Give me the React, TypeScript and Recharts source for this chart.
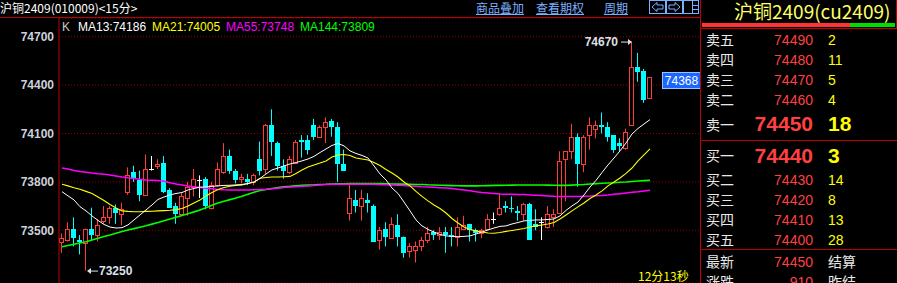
import React from 'react';
import { ComposedChart, Bar, Line, XAxis, YAxis, CartesianGrid, ReferenceDot } from 'recharts';

// ---------- data ----------
const opens = [
  73430,73440,73510,73440,73420,73510,73470,73560,73580,73640,
  73600,73740,73860,73810,73720,73880,73900,73920,73750,73650,
  73600,73700,73770,73810,73820,73640,73780,73860,73960,73870,
  73820,73820,73800,73940,73880,74150,74040,73900,73860,73920,
  74060,74060,74150,74080,74140,74180,74140,73910,73610,73690,
  73650,73690,73650,73440,73510,73450,73530,73460,73370,73380,
  73400,73440,73490,73470,73490,73470,73460,73510,73540,73500,
  73480,73510,73570,73600,73650,73640,73620,73600,73660,73540,
  73550,73520,73580,73610,73940,73990,74080,73910,74090,74130,
  74150,74140,74090,74040,74010,74150,74510,74490,74320,
];
const highs = [
  73480,73550,73580,73470,73510,73640,73570,73650,73650,73660,
  73670,73890,73900,73870,73970,73960,73940,73960,73760,73670,
  73730,73800,73880,73840,73830,73800,73920,74040,74000,73880,
  73850,73850,73850,74050,74160,74250,74050,73940,73960,74060,
  74090,74090,74190,74150,74200,74190,74170,74000,73780,73750,
  73750,73730,73660,73520,73550,73580,73600,73460,73420,73430,
  73460,73520,73500,73520,73520,73520,73580,73590,73540,73510,
  73510,73600,73610,73730,73680,73710,73650,73670,73670,73630,
  73580,73650,73630,73990,73990,74160,74100,74090,74200,74180,
  74230,74170,74090,74070,74130,74670,74600,74500,74450,
];
const lows = [
  73360,73430,73400,73350,73250,73440,73430,73540,73540,73540,
  73530,73720,73800,73680,73720,73870,73880,73730,73640,73540,
  73590,73590,73710,73700,73630,73630,73770,73850,73850,73790,
  73790,73780,73780,73840,73850,73960,73870,73820,73850,73910,
  73950,73970,74060,74080,74040,74080,73800,73870,73560,73610,
  73560,73610,73430,73380,73400,73450,73400,73330,73330,73300,
  73370,73420,73440,73440,73360,73400,73400,73500,73430,73430,
  73450,73500,73540,73590,73610,73610,73560,73560,73440,73500,
  73440,73510,73520,73610,73680,73940,73770,73860,74000,74070,
  74100,74050,73980,73990,74000,74150,74420,74290,74320,
];
const closes = [
  73450,73510,73450,73430,73510,73470,73530,73580,73640,73610,
  73630,73840,73820,73720,73880,73880,73910,73740,73640,73600,
  73710,73770,73820,73810,73650,73780,73880,73960,73870,73810,
  73830,73800,73840,73870,74150,74050,73900,73870,73940,74050,
  74050,74000,74080,74140,74170,74140,73910,73870,73700,73650,
  73700,73670,73430,73500,73460,73540,73460,73360,73400,73400,
  73440,73480,73470,73490,73470,73460,73520,73530,73500,73480,
  73500,73570,73570,73640,73640,73630,73610,73660,73440,73520,
  73550,73600,73600,73930,73990,74080,73910,74080,74150,74150,
  74140,74080,74000,74020,74110,74510,74480,74310,74450,
];
const ma13 = [
  73739,73713,73688,73646,73620,73589,73561,73536,73520,73514,
  73516,73533,73564,73595,73626,73657,73691,73706,73719,73728,
  73734,73750,73759,73768,73768,73772,73775,73778,73779,73781,
  73784,73790,73799,73821,73849,73874,73886,73899,73911,73920,
  73930,73942,73958,73982,74004,74026,74038,74023,73992,73976,
  73964,73948,73899,73849,73812,73762,73728,73675,73620,73564,
  73527,73505,73489,73474,73465,73462,73460,73462,73465,73477,
  73489,73502,73514,73524,73527,73539,73548,73558,73561,73564,
  73564,73567,73570,73589,73623,73651,73675,73719,73768,73809,
  73858,73905,73948,73992,74041,74097,74131,74159,74186,
];
const ma21 = [
  73785,73775,73764,73754,73741,73728,73706,73685,73660,73638,
  73620,73617,73615,73615,73617,73618,73620,73622,73624,73628,
  73635,73651,73669,73688,73713,73734,73753,73765,73773,73778,
  73781,73790,73799,73822,73827,73830,73830,73832,73834,73852,
  73874,73892,73905,73917,73930,73954,73967,73970,73964,73948,
  73942,73936,73920,73902,73877,73855,73830,73799,73775,73741,
  73710,73682,73657,73635,73607,73573,73545,73520,73505,73496,
  73489,73483,73481,73486,73493,73499,73505,73511,73520,73527,
  73533,73539,73548,73570,73595,73620,73645,73669,73697,73719,
  73744,73775,73799,73824,73853,73886,73930,73967,74005,
];
const ma55 = [
  73886,73880,73871,73865,73860,73855,73851,73848,73843,73837,
  73830,73825,73821,73816,73812,73810,73808,73804,73795,73787,
  73781,73775,73770,73765,73761,73757,73753,73751,73750,73750,
  73750,73750,73751,73752,73754,73757,73761,73765,73768,73770,
  73773,73775,73778,73781,73783,73785,73786,73786,73786,73786,
  73785,73785,73785,73783,73782,73781,73779,73777,73775,73773,
  73770,73768,73766,73764,73762,73759,73754,73750,73745,73739,
  73734,73731,73728,73725,73724,73723,73722,73721,73719,73717,
  73715,73713,73711,73710,73709,73709,73710,73711,73712,73714,
  73716,73719,73723,73727,73731,73735,73739,73744,73748,
];
const ma144 = [
  73398,73406,73413,73421,73429,73440,73450,73461,73471,73482,
  73492,73501,73510,73519,73528,73538,73548,73559,73570,73580,
  73592,73603,73614,73626,73640,73655,73669,73680,73690,73700,
  73711,73723,73735,73747,73753,73759,73765,73769,73772,73776,
  73779,73781,73782,73784,73785,73787,73788,73788,73789,73790,
  73790,73790,73790,73789,73788,73787,73786,73786,73785,73784,
  73784,73782,73781,73779,73778,73777,73776,73775,73775,73775,
  73776,73777,73778,73778,73779,73780,73781,73781,73781,73781,
  73781,73780,73779,73778,73778,73780,73782,73784,73787,73789,
  73791,73793,73795,73798,73799,73802,73805,73808,73809,
];
const yTicks = [73500, 73800, 74100, 74400, 74700];
const maNames = ['MA13', 'MA21', 'MA55', 'MA144'];
const maLegendValues = ['74186', '74005', '73748', '73809'];
const headerTitle = '沪铜2409(010009)<15分>';
const headerLinks = ['商品叠加', '查看期权', '周期'];
const panelTitle = '沪铜2409(cu2409)';
const askLabels = ['卖五', '卖四', '卖三', '卖二', '卖一'];
const askPrices = [74490, 74480, 74470, 74460, 74450];
const askVols = [2, 11, 5, 4, 18];
const bidLabels = ['买一', '买二', '买三', '买四', '买五'];
const bidPrices = [74440, 74430, 74420, 74410, 74400];
const bidVols = [3, 14, 8, 13, 28];
const quoteLabels = ['最新', '涨跌'];
const quoteValues = ['74450', '910'];
const quoteRight = ['结算', '昨结'];
const cursorPrice = '74368';
const timerText = '12分13秒';

// ---------- styles ----------
const CJK = '"Noto Sans CJK SC", "Noto Sans", sans-serif';
const NUM = '"Liberation Sans", Arial, sans-serif';
const UP = '#ff3c3c';
const DOWN = '#00ffff';
const DOJI = '#ffffff';
const RED_LINE = '#c00000';
const MA_COLORS = ['#ffffff', '#ffff00', '#ff00ff', '#00ff00'];
const LBL = '#dde2ea';
const LINK = '#7ab0ff';
const Y_MIN = 73173;
const Y_MAX = 74816;

const rows = opens.map((o, i) => ({
  i, o, h: highs[i], l: lows[i], c: closes[i],
  m13: ma13[i], m21: ma21[i], m55: ma55[i], m144: ma144[i],
}));

let hiIdx = 0, loIdx = 0;
highs.forEach((v, i) => { if (v > highs[hiIdx]) hiIdx = i; });
lows.forEach((v, i) => { if (v < lows[loIdx]) loIdx = i; });

const Candle = (props: any) => {
  const { x, y, width, height, payload } = props;
  if (!payload || x == null || y == null) return null;
  const { o, h, l, c } = payload;
  const top = Math.min(y, y + height);
  const span = Math.abs(height);
  const py = (v: number) => (h === l ? top : top + ((h - v) / (h - l)) * span);
  const cx = Math.floor(x + width / 2) + 0.5;
  const yo = py(o), yc = py(c);
  if (c > o) {
    const bt = Math.round(yc) + 0.5, bb = Math.round(yo) + 0.5;
    return (
      <g>
        <line x1={cx} x2={cx} y1={top} y2={bt} stroke={UP} />
        <line x1={cx} x2={cx} y1={bb} y2={top + span} stroke={UP} />
        <rect x={cx - 2} y={bt} width={4} height={Math.max(bb - bt, 1)} fill="#000" stroke={UP} />
      </g>
    );
  }
  if (c < o) {
    return (
      <g>
        <line x1={cx} x2={cx} y1={top} y2={top + span} stroke={DOWN} />
        <rect x={cx - 2.5} y={Math.round(yo)} width={5} height={Math.max(Math.round(yc) - Math.round(yo), 1)} fill={DOWN} />
      </g>
    );
  }
  const yd = Math.round(yo) + 0.5;
  return (
    <g>
      <line x1={cx} x2={cx} y1={top} y2={top + span} stroke={DOJI} />
      <line x1={cx - 2.5} x2={cx + 2.5} y1={yd} y2={yd} stroke={DOJI} />
    </g>
  );
};

const centerOf = (p: any) => {
  const vb = p.viewBox || p;
  return { cx: vb.x + (vb.width || 0) / 2, cy: vb.y + (vb.height || 0) / 2 };
};

const HighLabel = (p: any) => {
  const { cx, cy } = centerOf(p);
  return (
    <g>
      <text x={cx - 14} y={cy + 4.5} textAnchor="end" fill={LBL} fontSize={12} fontWeight="bold" fontFamily={NUM}>{String(highs[hiIdx])}</text>
      <line x1={cx - 11} x2={cx - 3} y1={cy + 0.5} y2={cy + 0.5} stroke={LBL} />
      <path d={`M${cx},${cy + 0.5} l-4,-3 v6 z`} fill={LBL} />
    </g>
  );
};

const LowLabel = (p: any) => {
  const { cx, cy } = centerOf(p);
  return (
    <g>
      <path d={`M${cx + 1},${cy + 0.5} l4,-3 v6 z`} fill={LBL} />
      <line x1={cx + 4} x2={cx + 12} y1={cy + 0.5} y2={cy + 0.5} stroke={LBL} />
      <text x={cx + 13} y={cy + 4.5} textAnchor="start" fill={LBL} fontSize={12} fontWeight="bold" fontFamily={NUM}>{String(lows[loIdx])}</text>
    </g>
  );
};

const Overlay = () => {
  const legendX = [78, 152, 226, 300];
  const linkX = [476, 536, 604];
  const linkW = [48, 48, 24];
  const askBase = [45, 65, 85, 105, 131];
  const bidBase = [162.5, 185, 205, 225, 245];
  const quoteBase = [267, 287];
  return (
    <svg width={897} height={283} style={{ position: 'absolute', left: 0, top: 0, pointerEvents: 'none' }}>
      {/* header */}
      <text x={0} y={13} fill="#ffffff" fontSize={12} fontFamily={CJK}>{headerTitle}</text>
      <line x1={0} x2={700} y1={17.5} y2={17.5} stroke={RED_LINE} />
      {headerLinks.map((t, k) => (
        <g key={t}>
          <text x={linkX[k]} y={13} fill={LINK} fontSize={12} fontFamily={CJK}>{t}</text>
          <line x1={linkX[k]} x2={linkX[k] + linkW[k]} y1={14.5} y2={14.5} stroke={LINK} />
        </g>
      ))}
      {/* icons */}
      <rect x={649.5} y={0.5} width={16} height={13} fill="none" stroke={LINK} />
      <path d="M652,7 L657,2.5 L657,5 L663,5 L663,9 L657,9 L657,11.5 Z" fill="none" stroke={LINK} />
      <rect x={666.5} y={0.5} width={16} height={13} fill="none" stroke={LINK} />
      <path d="M680,7 L675,2.5 L675,5 L669,5 L669,9 L675,9 L675,11.5 Z" fill="none" stroke={LINK} />
      <rect x={683.5} y={0.5} width={15} height={13} fill="none" stroke={LINK} />
      <line x1={692.5} x2={692.5} y1={0.5} y2={13.5} stroke={LINK} />
      <line x1={692.5} x2={698.5} y1={5.5} y2={5.5} stroke={LINK} />
      <line x1={692.5} x2={698.5} y1={9.5} y2={9.5} stroke={LINK} />

      {/* legend */}
      <text x={62} y={31} fill="#c8c8c8" fontSize={12} fontFamily={NUM}>K</text>
      {maNames.map((n, k) => (
        <text key={n} x={legendX[k]} y={31} fill={MA_COLORS[k]} fontSize={12} fontFamily={NUM}>{`${n}:${maLegendValues[k]}`}</text>
      ))}

      {/* cursor price box */}
      <rect x={662.5} y={72.5} width={38} height={16} fill="#1a66ff" stroke="#9fc0ff" />
      <text x={681.5} y={85} textAnchor="middle" fill="#ffffff" fontSize={12} fontFamily={NUM}>{cursorPrice}</text>

      {/* timer */}
      <text x={638} y={281} fill="#ffff00" fontSize={12} fontFamily={CJK}>{timerText}</text>

      {/* right panel */}
      <line x1={700.5} x2={700.5} y1={0} y2={283} stroke={RED_LINE} />
      <line x1={896.5} x2={896.5} y1={0} y2={28} stroke={RED_LINE} />
      <text x={734} y={19} fill="#ffff66" fontSize={19} fontFamily={CJK}>{panelTitle}</text>
      <rect x={702} y={23} width={148} height={4} fill="#ff3333" />
      <rect x={850} y={23} width={45} height={4} fill="#00dd00" />
      <line x1={700} x2={897} y1={28.5} y2={28.5} stroke={RED_LINE} />

      {askLabels.map((t, k) => {
        const big = k === 4;
        const base = askBase[k];
        return (
          <g key={t}>
            <text x={706} y={big ? 129.5 : base} fill="#e8e8e8" fontSize={14} fontFamily={CJK}>{t}</text>
            <text x={813} y={base} textAnchor="end" fill="#ff4040" fontSize={big ? 21 : 14} fontWeight={big ? 'bold' : 'normal'} fontFamily={NUM}>{askPrices[k]}</text>
            <text x={828} y={base} fill="#ffff00" fontSize={big ? 21 : 14} fontWeight={big ? 'bold' : 'normal'} fontFamily={NUM}>{askVols[k]}</text>
          </g>
        );
      })}
      <line x1={700} x2={897} y1={140.5} y2={140.5} stroke={RED_LINE} />
      {bidLabels.map((t, k) => {
        const big = k === 0;
        const base = bidBase[k];
        return (
          <g key={t}>
            <text x={706} y={big ? 160.5 : base} fill="#e8e8e8" fontSize={14} fontFamily={CJK}>{t}</text>
            <text x={813} y={base} textAnchor="end" fill="#ff4040" fontSize={big ? 21 : 14} fontWeight={big ? 'bold' : 'normal'} fontFamily={NUM}>{bidPrices[k]}</text>
            <text x={828} y={base} fill="#ffff00" fontSize={big ? 21 : 14} fontWeight={big ? 'bold' : 'normal'} fontFamily={NUM}>{bidVols[k]}</text>
          </g>
        );
      })}
      <line x1={700} x2={897} y1={249.5} y2={249.5} stroke={RED_LINE} />
      {quoteLabels.map((t, k) => (
        <g key={t}>
          <text x={706} y={quoteBase[k]} fill="#e8e8e8" fontSize={14} fontFamily={CJK}>{t}</text>
          <text x={813} y={quoteBase[k]} textAnchor="end" fill="#ff4040" fontSize={14} fontFamily={NUM}>{quoteValues[k]}</text>
          <text x={828} y={quoteBase[k]} fill="#e8e8e8" fontSize={14} fontFamily={CJK}>{quoteRight[k]}</text>
        </g>
      ))}
    </svg>
  );
};

export default function App() {
  return (
    <div style={{ position: 'fixed', left: 0, top: 0, width: 897, height: 283, background: '#000', overflow: 'hidden' }}>
      <div style={{ position: 'absolute', left: 0, top: 0 }}>
        <ComposedChart width={700} height={283} data={rows} margin={{ top: 18, right: 0, bottom: 0, left: 0 }}>
          <CartesianGrid horizontal vertical={false} stroke="#9b0000" strokeDasharray="1 2" />
          <XAxis dataKey="i" type="number" domain={[-0.5, 641 / 6 - 0.5]} hide allowDataOverflow />
          <YAxis
            domain={[Y_MIN, Y_MAX]}
            ticks={yTicks}
            interval={0}
            width={59}
            allowDataOverflow
            tickLine={false}
            tickSize={4}
            tickMargin={1}
            axisLine={{ stroke: RED_LINE }}
            tick={{ fill: '#cdd2da', fontSize: 12, fontWeight: 'bold', fontFamily: NUM }}
          />
          <Bar dataKey={(d: any) => [d.l, d.h]} shape={<Candle />} barSize={5} isAnimationActive={false} />
          <Line dataKey="m144" type="linear" stroke={MA_COLORS[3]} strokeWidth={1.6} dot={false} isAnimationActive={false} />
          <Line dataKey="m55" type="linear" stroke={MA_COLORS[2]} strokeWidth={1.5} dot={false} isAnimationActive={false} />
          <Line dataKey="m21" type="linear" stroke={MA_COLORS[1]} strokeWidth={1.1} dot={false} isAnimationActive={false} />
          <Line dataKey="m13" type="linear" stroke={MA_COLORS[0]} strokeWidth={1} dot={false} isAnimationActive={false} />
          <ReferenceDot x={hiIdx} y={highs[hiIdx]} r={1} fill="none" stroke="none" label={HighLabel} />
          <ReferenceDot x={loIdx} y={lows[loIdx]} r={1} fill="none" stroke="none" label={LowLabel} />
        </ComposedChart>
      </div>
      <Overlay />
    </div>
  );
}
